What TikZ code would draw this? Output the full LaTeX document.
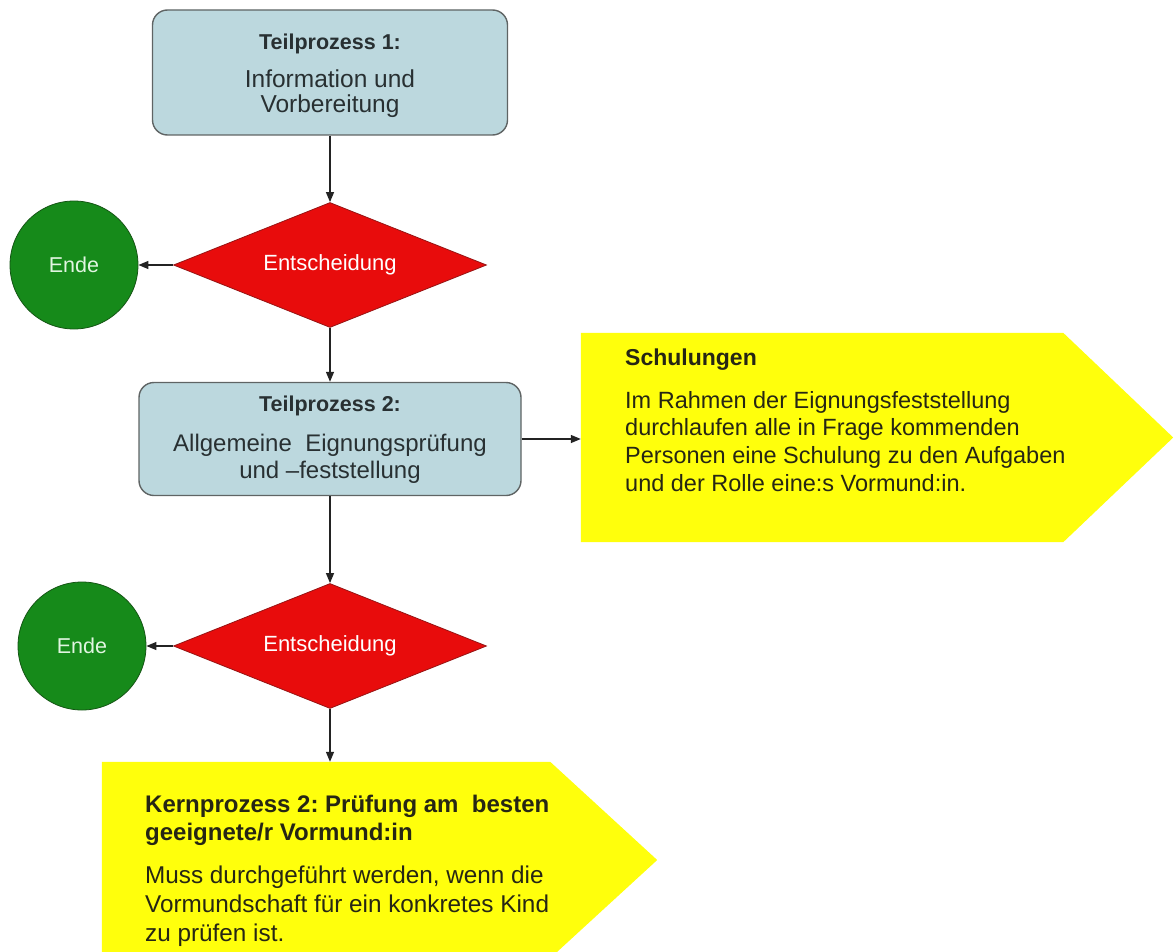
\documentclass[tikz,border=0pt]{standalone}
\usepackage{fontspec}
\setmainfont{Liberation Sans}
\frenchspacing
\usetikzlibrary{shapes.geometric,arrows.meta,calc}

\definecolor{procfill}{RGB}{188,216,222}
\definecolor{procline}{RGB}{95,100,100}
\definecolor{proctext}{RGB}{40,48,50}
\definecolor{decfill}{RGB}{232,12,12}
\definecolor{decline}{RGB}{150,20,20}
\definecolor{endfill}{RGB}{22,138,26}
\definecolor{endline}{RGB}{20,85,20}
\definecolor{endtext}{RGB}{225,245,225}
\definecolor{notefill}{RGB}{255,255,12}
\definecolor{notetext}{RGB}{38,38,20}
\definecolor{flowline}{RGB}{35,35,35}

\begin{document}
\begin{tikzpicture}[x=1pt,y=-1pt,
  procbox/.style={draw=procline, line width=1.4pt, fill=procfill,
    rounded corners=15pt, inner sep=0pt},
  proctxt/.style={inner sep=0pt, align=center, text=proctext, anchor=base},
  decision/.style={diamond, draw=decline, line width=0.8pt, fill=decfill,
    aspect=2.5, inner sep=0pt, minimum width=313pt, minimum height=125pt,
    text=white, font=\fontsize{22}{26}\selectfont},
  endstate/.style={circle, draw=endline, line width=0.8pt, fill=endfill,
    inner sep=0pt, minimum size=128pt, text=endtext,
    font=\fontsize{21.5}{26}\selectfont},
  noteframe/.style={inner sep=0pt, draw=none},
  notetxt/.style={inner sep=0pt, text=notetext, align=left, anchor=base west},
  flow/.style={draw=flowline, line width=1.3pt,
    -{Triangle[length=10pt,width=8pt]}}
]
\useasboundingbox (0,0) rectangle (1174,952);
\clip (0,0) rectangle (1174,952);

% process steps
\node[procbox, minimum width=355pt, minimum height=125pt] (tp1) at (330,72.5) {};
\node[proctxt, font=\fontsize{24.5}{25}\selectfont] (tp1txt) at (330,113)
  {{\bfseries\fontsize{21.5}{25}\selectfont Teilprozess 1:}\\[13pt]
   Information und\\
   Vorbereitung};
\node[procbox, minimum width=382pt, minimum height=113pt] (tp2) at (330,439) {};
\node[proctxt, font=\fontsize{24}{27}\selectfont] (tp2txt) at (330,478)
  {{\bfseries\fontsize{21.5}{27}\selectfont Teilprozess 2:}\\[13pt]
   Allgemeine~ Eignungsprüfung\\
   und –feststellung};

% decisions and end states
\node[decision] (dec1) at (330,265) {\raisebox{-2pt}{Entscheidung}};
\node[endstate] (end1) at (74,265) {Ende};
\node[decision] (dec2) at (330,646) {\raisebox{-2pt}{Entscheidung}};
\node[endstate] (end2) at (82,646) {Ende};

% note arrows (pentagons)
\node[noteframe, minimum width=482pt, minimum height=209pt] (schul) at (822,437.5) {};
\fill[notefill] (schul.north west) -- (schul.north east) -- ($(schul.east)+(110,0)$)
  -- (schul.south east) -- (schul.south west) -- cycle;
\node[noteframe, minimum width=448pt, minimum height=196pt] (kern) at (326,860) {};
\fill[notefill] (kern.north west) -- (kern.north east) -- ($(kern.east)+(107,0)$)
  -- (kern.south east) -- (kern.south west) -- cycle;

\node[notetxt, font=\bfseries\fontsize{23}{27.6}\selectfont] (schulT) at (625,365)
  {Schulungen};
\node[notetxt, font=\fontsize{23.5}{27.6}\selectfont] (schulB) at (625,491)
  {Im Rahmen der Eignungsfeststellung\\
   durchlaufen alle in Frage kommenden\\
   Personen eine Schulung zu den Aufgaben\\
   und der Rolle eine:s Vormund:in.};

\node[notetxt, font=\bfseries\fontsize{24}{28}\selectfont] (kernT) at (145,840)
  {Kernprozess 2: Prüfung am~ besten\\
   geeignete/r Vormund:in};
\node[notetxt, font=\fontsize{24.3}{29}\selectfont] (kernB) at (145,941)
  {Muss durchgeführt werden, wenn die\\
   Vormundschaft für ein konkretes Kind\\
   zu prüfen ist.};

% connectors
\draw[flow] (tp1.south) -- (dec1.north);
\draw[flow] (dec1.west) -- (end1.east);
\draw[flow] (dec1.south) -- (tp2.north);
\draw[flow] (tp2.east) -- (tp2.east -| schul.west);
\draw[flow] (tp2.south) -- (dec2.north);
\draw[flow] (dec2.west) -- (end2.east);
\draw[flow] (dec2.south) -- (dec2.south |- kern.north);
\end{tikzpicture}
\end{document}
